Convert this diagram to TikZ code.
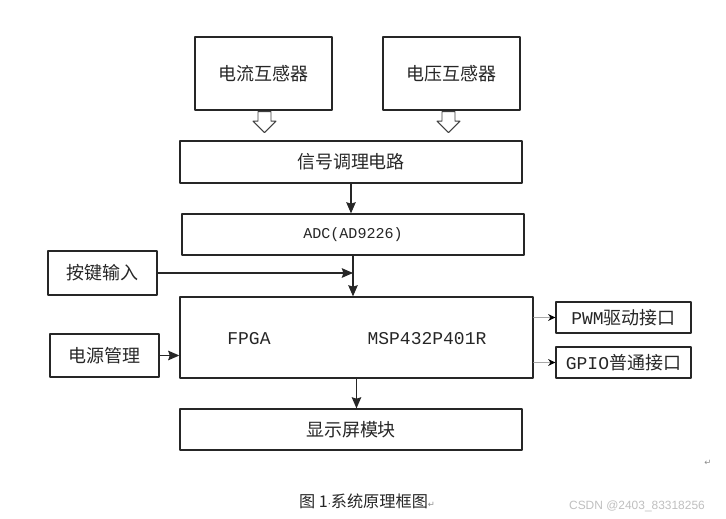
\documentclass[tikz,border=0pt]{standalone}
\usepackage{fontspec}
\setmainfont{Noto Sans CJK SC}
\newfontfamily\monofnt{Liberation Mono}
\newfontfamily\symfnt{DejaVu Sans}
\newfontfamily\markfnt{Liberation Sans}
\usetikzlibrary{arrows.meta,calc}

\begin{document}
\begin{tikzpicture}[x=0.025cm,y=-0.025cm,line cap=round,line join=round,
  block/.style={draw=black!85,line width=0.9pt,inner sep=0pt,text=black!85,
    font=\fontsize{12.8}{14}\selectfont},
  label/.style={inner sep=0pt,text=black!85,font=\fontsize{12.8}{14}\selectfont},
  link/.style={draw=black!85,line width=0.8pt,-{Stealth[length=2.8mm,width=2.4mm,inset=0.4mm]}},
  sidelink/.style={draw=black!35,line width=0.6pt,-{Stealth[length=1.8mm,width=1.7mm,black]}},
  hollow/.style={draw=black!75,line width=0.7pt,fill=white}]
  \useasboundingbox (0,0) rectangle (726,519);
  % sensors
  \node[block,minimum width=3.425cm,minimum height=1.825cm] (ct) at (263.5,73.5) {电流互感器};
  \node[block,minimum width=3.425cm,minimum height=1.825cm] (vt) at (451.5,73.5) {电压互感器};
  % main chain
  \node[block,minimum width=8.55cm,minimum height=1.05cm] (cond) at (351,162) {信号调理电路};
  \node[block,minimum width=8.55cm,minimum height=1.025cm,font=\monofnt\fontsize{10.7}{12}\selectfont] (adc) at (353,234.5) {ADC(AD9226)};
  \node[block,minimum width=8.825cm,minimum height=2.025cm] (mcu) at (356.5,337.5) {};
  \node[label,font=\monofnt\fontsize{12.8}{14}\selectfont] (fpga) at (249,339) {FPGA};
  \node[label,font=\monofnt\fontsize{12.8}{14}\selectfont] (msp) at (427,339) {MSP432P401R};
  \node[block,minimum width=8.55cm,minimum height=1.025cm] (disp) at (351,429.5) {显示屏模块};
  % side blocks
  \node[block,minimum width=2.725cm,minimum height=1.1cm] (key) at (102.5,273) {按键输入};
  \node[block,minimum width=2.725cm,minimum height=1.075cm] (pwr) at (104.5,355.5) {电源管理};
  \node[block,minimum width=3.375cm,minimum height=0.775cm] (pwm) at (623.5,317.5) {{\monofnt PWM}驱动接口};
  \node[block,minimum width=3.375cm,minimum height=0.775cm] (gpio) at (623.5,362.5) {{\monofnt GPIO}普通接口};

  % hollow arrows under the sensors
  \coordinate (ha) at ($(ct.south)+(1,1)$);
  \coordinate (hb) at ($(vt.south)+(-3,1)$);
  \foreach \h in {ha,hb}
    \draw[hollow] (\h) ++(-6.5,0) -- ++(0,9.5) -- ++(-5,0) -- ++(11.5,11.5)
      -- ++(11.5,-11.5) -- ++(-5,0) -- ++(0,-9.5) -- cycle;

  % connectors
  \draw[link] (cond.south) -- (cond.south |- adc.north);
  \coordinate (join) at (adc.south |- key.east);
  \draw[link] (key.east) -- (join);
  \draw[link] (adc.south) -- (adc.south |- mcu.north);
  \draw[link] (pwr.east) -- (mcu.west |- pwr.east);
  \draw[link] (mcu.south) -- (mcu.south |- disp.north);
  \draw[sidelink] (mcu.east |- pwm.west) -- (pwm.west);
  \draw[sidelink] (mcu.east |- gpio.west) -- (gpio.west);

  % caption and page marks
  \node[label,font=\fontsize{11.5}{13}\selectfont] (cap) at (367,501)
    {图 1{\symfnt\fontsize{7}{8}\selectfont·}系统原理框图{\color{black!45}\symfnt\fontsize{6}{7}\selectfont ↵}};
  \node[inner sep=0pt,text=black!45,font=\symfnt\fontsize{6}{7}\selectfont] (ret) at (708,463) {↵};
  \node[inner sep=0pt,text=black!25,font=\markfnt\fontsize{8.5}{10}\selectfont] (mark) at (637,506) {CSDN @2403\_83318256};
\end{tikzpicture}
\end{document}
